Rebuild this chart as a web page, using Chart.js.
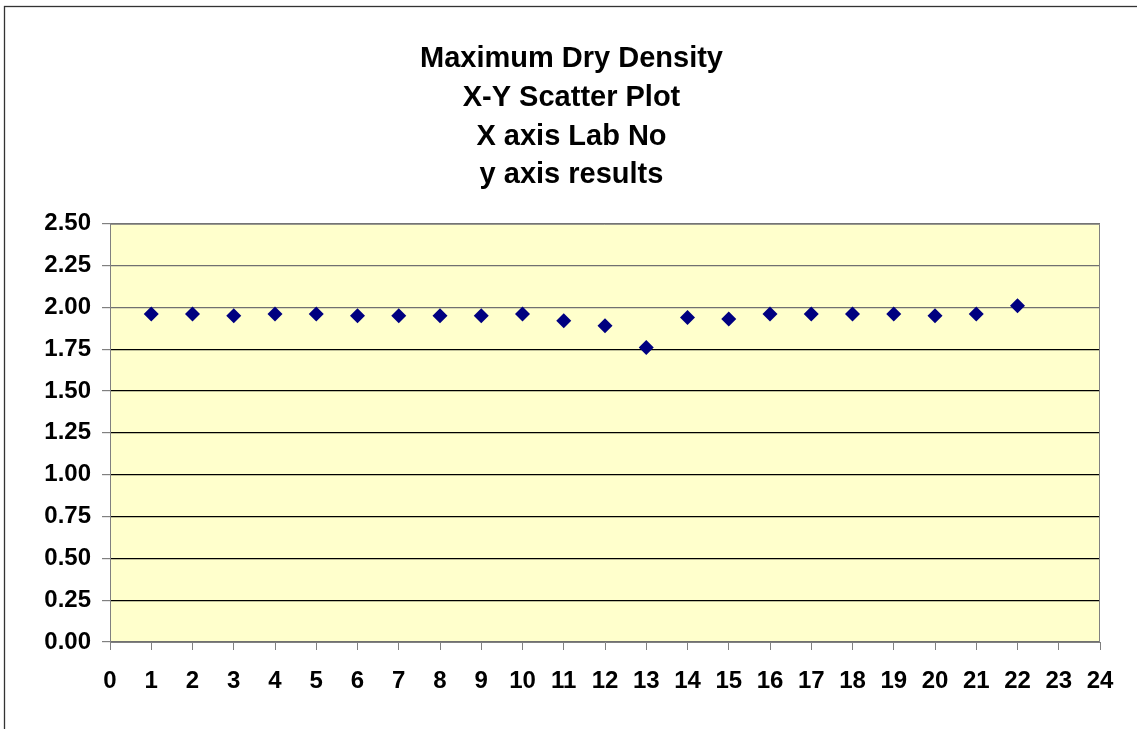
<!DOCTYPE html>
<html>
<head>
<meta charset="utf-8">
<title>Maximum Dry Density</title>
<script src="https://cdn.jsdelivr.net/npm/chart.js@4/dist/chart.umd.min.js"></script>
<style>
    body { margin: 0; background: #ffffff; }
    canvas { display: block; }
</style>
</head>
<body>
<canvas id="mddChart" width="1137" height="729"></canvas>
<script>
// lab numbers and their results
const labNo = [1, 2, 3, 4, 5, 6, 7, 8, 9, 10, 11, 12, 13, 14, 15, 16, 17, 18, 19, 20, 21, 22];
const results = [1.96, 1.96, 1.95, 1.96, 1.96, 1.95, 1.95, 1.95, 1.95, 1.96, 1.92,
    1.89, 1.76, 1.94, 1.93, 1.96, 1.96, 1.96, 1.96, 1.95, 1.96, 2.01];
const titleLines = ['Maximum Dry Density', 'X-Y Scatter Plot', 'X axis Lab No', 'y axis results'];

const fontFamily = '"Liberation Sans", Arial, sans-serif';

/**
 * @Plugin to paint the yellow plot area, the outer frame and the plot border.
 */
const plotFrame = {
    id: 'plotFrame',
    beforeDraw(chart) {
        const ctx = chart.ctx;
        const a = chart.chartArea;
        ctx.save();
        ctx.fillStyle = '#FFFFCC';
        ctx.fillRect(a.left, a.top, a.right - a.left, a.bottom - a.top);
        ctx.strokeStyle = '#333333';
        ctx.lineWidth = 1.3;
        ctx.strokeRect(4.5, 6.5, 1300, 900);
        ctx.restore();
    },
    beforeDatasetsDraw(chart) {
        const ctx = chart.ctx;
        const a = chart.chartArea;
        ctx.save();
        ctx.strokeStyle = '#808080';
        ctx.lineWidth = 1;
        ctx.beginPath();
        ctx.moveTo(a.left, a.top + 0.5);
        ctx.lineTo(a.right - 0.5, a.top + 0.5);
        ctx.lineTo(a.right - 0.5, a.bottom);
        ctx.stroke();
        ctx.restore();
    }
};

const points = labNo.map((n, i) => ({x: n, y: results[i]}));

const ctx = document.getElementById('mddChart').getContext('2d');
window.myChart = new Chart(ctx, {
    type: 'scatter',
    data: {
        datasets: [{
            data: points,
            pointStyle: 'rectRot',
            pointRadius: 7.5,
            pointHoverRadius: 7.5,
            pointBorderWidth: 0,
            pointBackgroundColor: '#000080',
            pointBorderColor: '#000080'
        }]
    },
    options: {
        responsive: false,
        animation: false,
        layout: {
            padding: {left: 43, right: 37, top: 0, bottom: 0}
        },
        plugins: {
            legend: {display: false},
            tooltip: {enabled: false},
            title: {
                display: true,
                text: titleLines,
                color: '#000000',
                font: {family: fontFamily, size: 29, weight: 'bold', lineHeight: 1.334},
                padding: {top: 40, bottom: 29}
            }
        },
        scales: {
            x: {
                type: 'linear',
                position: 'bottom',
                min: 0,
                max: 24,
                afterFit: (scale) => { scale.height = 87; },
                border: {color: '#808080', width: 1},
                grid: {
                    drawOnChartArea: false,
                    drawTicks: true,
                    tickLength: 8,
                    tickColor: '#808080'
                },
                ticks: {
                    stepSize: 1,
                    padding: 17,
                    color: '#000000',
                    maxRotation: 0,
                    font: {family: fontFamily, size: 24, weight: 'bold'}
                }
            },
            y: {
                type: 'linear',
                position: 'left',
                min: 0,
                max: 2.5,
                afterFit: (scale) => { scale.width = 67; },
                border: {color: '#808080', width: 1},
                grid: {
                    color: (c) => (c.tick && (c.tick.value >= 2 || c.tick.value === 0)) ? '#707070' : '#000000',
                    lineWidth: 1.2,
                    tickLength: 8,
                    tickColor: '#808080'
                },
                ticks: {
                    stepSize: 0.25,
                    padding: 11,
                    color: '#000000',
                    font: {family: fontFamily, size: 24, weight: 'bold'},
                    callback: (v) => v.toFixed(2)
                }
            }
        }
    },
    plugins: [plotFrame]
});
</script>
</body>
</html>
